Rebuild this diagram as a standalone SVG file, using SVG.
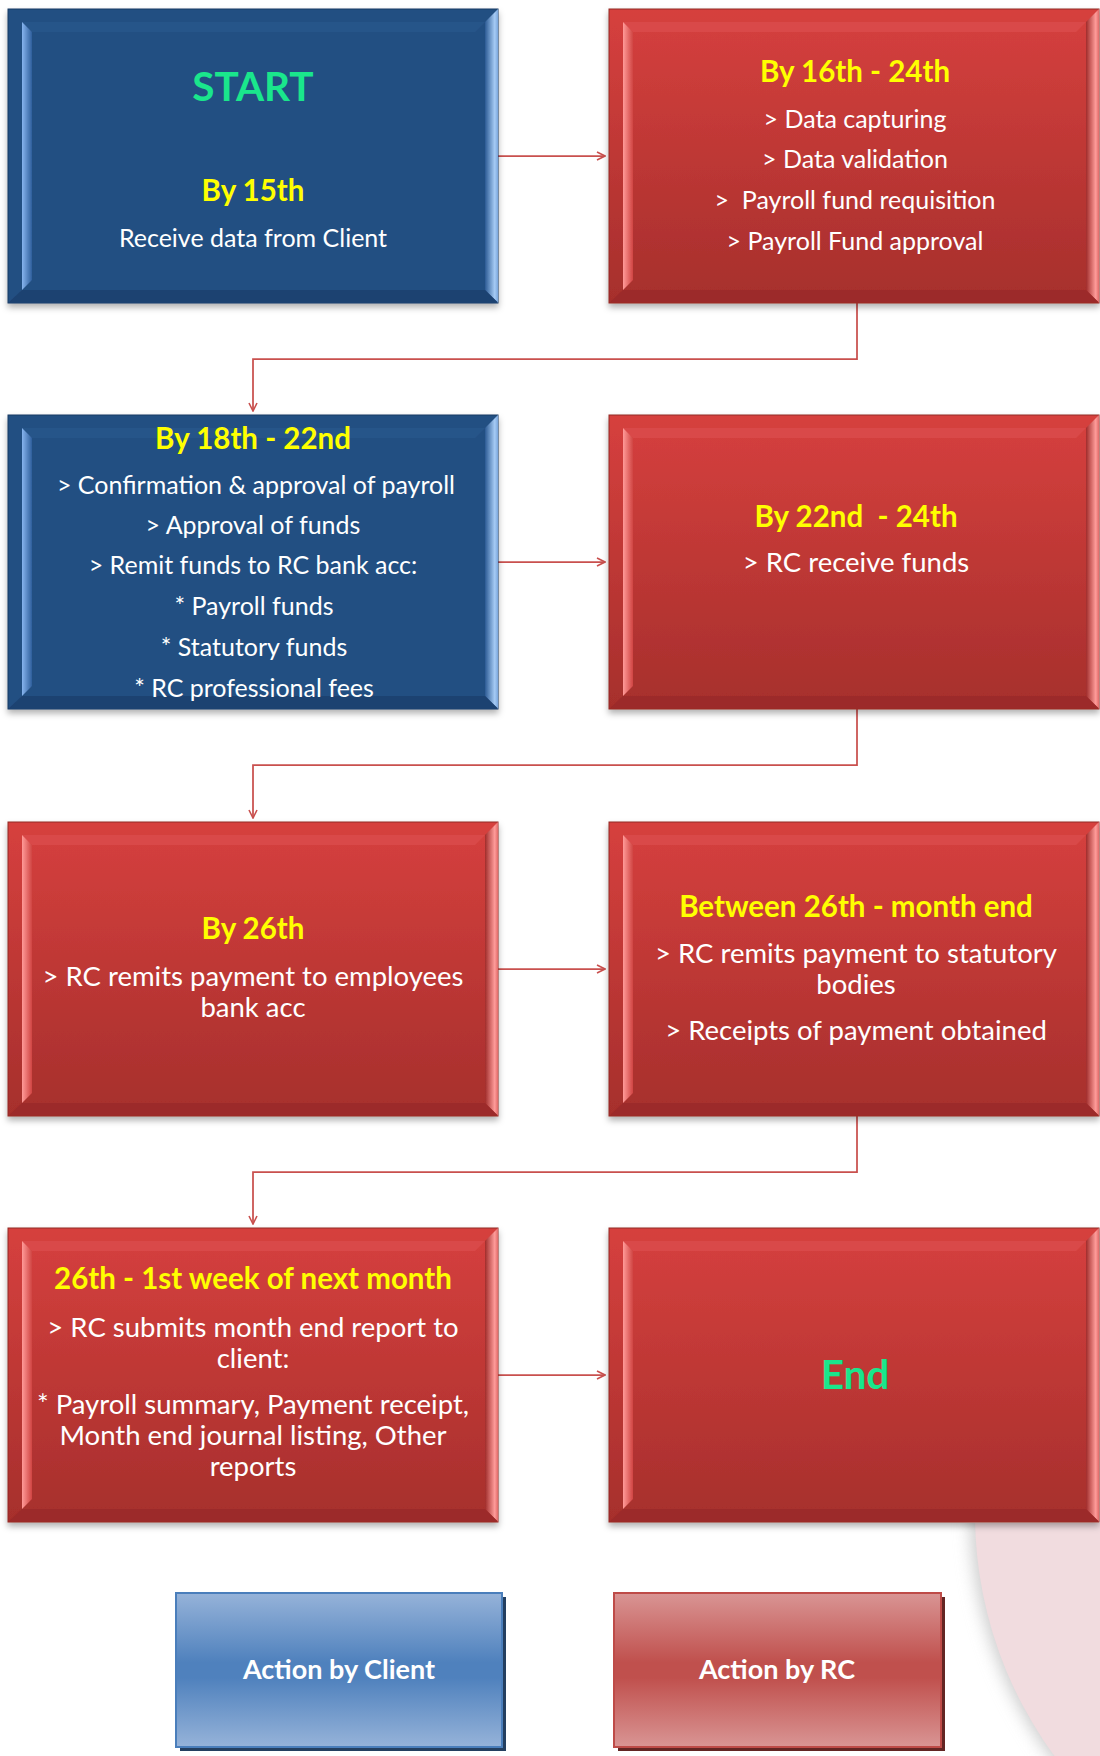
<svg xmlns="http://www.w3.org/2000/svg" xmlns:xlink="http://www.w3.org/1999/xlink" width="1100" height="1756" viewBox="0 0 1100 1756">
<style>
  text { font-family: "Lato", "Liberation Sans", sans-serif; text-anchor: middle; }
  .title { font-weight: bold; font-size: 29.5px; fill: #ffff00; }
  .big { font-weight: bold; font-size: 40.5px; fill: #1ae68c; }
  .body { font-size: 25px; fill: #ffffff; }
  .body2 { font-size: 27.5px; fill: #ffffff; }
  .legend { font-weight: bold; font-size: 27px; fill: #ffffff; }
  .conn { fill: none; stroke: #c9504e; stroke-width: 1.75; marker-end: url(#arrow); }
</style>
<defs>
  <marker id="arrow" viewBox="0 0 10 10" refX="9" refY="5" markerWidth="10" markerHeight="10" markerUnits="userSpaceOnUse" orient="auto">
    <path d="M1,1 L9,5 L1,9" fill="none" stroke="#c9504e" stroke-width="1.6"/>
  </marker>
  <filter id="shadow" x="-5%" y="-5%" width="110%" height="115%">
    <feDropShadow dx="0" dy="4" stdDeviation="3" flood-color="#000" flood-opacity="0.3"/>
  </filter>
  <filter id="blur" x="-20%" y="-20%" width="140%" height="140%">
    <feGaussianBlur stdDeviation="8"/>
  </filter>
  <clipPath id="bottomClip">
    <rect x="0" y="1523" width="1100" height="233"/>
  </clipPath>
  <linearGradient id="redBody" x1="0" y1="0" x2="0" y2="1">
    <stop offset="0" stop-color="#d6403e"/>
    <stop offset="1" stop-color="#a62f2c"/>
  </linearGradient>
  <linearGradient id="redLeft" x1="0" y1="0" x2="1" y2="0">
    <stop offset="0" stop-color="#ff9a98"/>
    <stop offset="1" stop-color="#d04442"/>
  </linearGradient>
  <linearGradient id="redRight" x1="0" y1="0" x2="1" y2="0">
    <stop offset="0" stop-color="#a02d2a"/>
    <stop offset="0.75" stop-color="#ff9c9a"/>
    <stop offset="1" stop-color="#e06a68"/>
  </linearGradient>
  <linearGradient id="blueLeft" x1="0" y1="0" x2="1" y2="0">
    <stop offset="0" stop-color="#86b4ee"/>
    <stop offset="1" stop-color="#2f5f9c"/>
  </linearGradient>
  <linearGradient id="blueRight" x1="0" y1="0" x2="1" y2="0">
    <stop offset="0" stop-color="#2c5b94"/>
    <stop offset="0.75" stop-color="#a6cbf5"/>
    <stop offset="1" stop-color="#7aa6dc"/>
  </linearGradient>
  <linearGradient id="legBlue" x1="0" y1="0" x2="0" y2="1">
    <stop offset="0" stop-color="#96b3d9"/>
    <stop offset="0.45" stop-color="#4f81bd"/>
    <stop offset="0.55" stop-color="#4f81bd"/>
    <stop offset="1" stop-color="#96b3d9"/>
  </linearGradient>
  <linearGradient id="legRed" x1="0" y1="0" x2="0" y2="1">
    <stop offset="0" stop-color="#d99594"/>
    <stop offset="0.45" stop-color="#c0504d"/>
    <stop offset="0.55" stop-color="#c0504d"/>
    <stop offset="1" stop-color="#d99594"/>
  </linearGradient>
  <g id="redShape">
    <rect x="0" y="0" width="490" height="294" fill="url(#redBody)" stroke="#922826" stroke-width="1"/>
    <polygon points="14,13 477,13 467,23 24,23" fill="#d94a48"/>
    <polygon points="14,13 24,23 24,271 14,281" fill="url(#redLeft)"/>
    <polygon points="490,0 490,294 477,281 477,13" fill="url(#redRight)"/>
    <polygon points="0.5,293.5 14,281 477,281 490,293.5" fill="#9c2b29"/>
  </g>
  <g id="blueShape">
    <rect x="0" y="0" width="490" height="294" fill="#244f82" stroke="#1b3b62" stroke-width="1"/>
    <polygon points="14,13 477,13 467,23 24,23" fill="#285589"/>
    <polygon points="14,13 24,23 24,271 14,281" fill="url(#blueLeft)"/>
    <polygon points="490,0 490,294 477,281 477,13" fill="url(#blueRight)"/>
    <polygon points="0.5,293.5 14,281 477,281 490,293.5" fill="#1e4271"/>
  </g>
</defs>

<rect width="1100" height="1756" fill="#ffffff"/>

<!-- background decoration -->
<g clip-path="url(#bottomClip)">
  <circle cx="1378" cy="1514" r="408" fill="#cfcfcf" filter="url(#blur)"/>
  <circle cx="1383" cy="1514" r="408" fill="#f1dcdf"/>
</g>

<g id="connectors">
  <path class="conn" d="M498,156 H605"/>
  <path class="conn" d="M857,303 V359 H253 V411"/>
  <path class="conn" d="M498,562 H605"/>
  <path class="conn" d="M857,709 V765 H253 V818"/>
  <path class="conn" d="M498,969 H605"/>
  <path class="conn" d="M857,1116 V1172 H253 V1224"/>
  <path class="conn" d="M498,1375 H605"/>
</g>

<g id="node-start">
  <use xlink:href="#blueShape" x="8" y="9" filter="url(#shadow)"/>
  <text class="big" x="253" y="101">START</text>
  <text class="title" x="253" y="201">By 15th</text>
  <text class="body" x="253" y="247">Receive data from Client</text>
</g>

<g id="node-16-24">
  <use xlink:href="#redShape" x="609" y="9" filter="url(#shadow)"/>
  <text class="title" x="855" y="82">By 16th - 24th</text>
  <text class="body" x="855" y="128">&gt; Data capturing</text>
  <text class="body" x="855" y="168">&gt; Data validation</text>
  <text class="body" x="855" y="209" xml:space="preserve">&gt;  Payroll fund requisition</text>
  <text class="body" x="855" y="250">&gt; Payroll Fund approval</text>
</g>

<g id="node-18-22">
  <use xlink:href="#blueShape" x="8" y="415" filter="url(#shadow)"/>
  <text class="title" x="253" y="449">By 18th - 22nd</text>
  <text class="body" x="256" y="494">&gt; Confirmation &amp; approval of payroll</text>
  <text class="body" x="253" y="534">&gt; Approval of funds</text>
  <text class="body" x="253" y="574">&gt; Remit funds to RC bank acc:</text>
  <text class="body" x="254" y="615">* Payroll funds</text>
  <text class="body" x="254" y="656">* Statutory funds</text>
  <text class="body" x="254" y="697">* RC professional fees</text>
</g>

<g id="node-22-24">
  <use xlink:href="#redShape" x="609" y="415" filter="url(#shadow)"/>
  <text class="title" x="856" y="527" xml:space="preserve">By 22nd  - 24th</text>
  <text class="body2" x="856" y="572">&gt; RC receive funds</text>
</g>

<g id="node-26">
  <use xlink:href="#redShape" x="8" y="822" filter="url(#shadow)"/>
  <text class="title" x="253" y="939">By 26th</text>
  <text class="body2" x="253" y="986">&gt; RC remits payment to employees</text>
  <text class="body2" x="253" y="1017">bank acc</text>
</g>

<g id="node-26-monthend">
  <use xlink:href="#redShape" x="609" y="822" filter="url(#shadow)"/>
  <text class="title" x="856" y="917">Between 26th - month end</text>
  <text class="body2" x="856" y="963">&gt; RC remits payment to statutory</text>
  <text class="body2" x="856" y="994">bodies</text>
  <text class="body2" x="856" y="1040">&gt; Receipts of payment obtained</text>
</g>

<g id="node-26-nextmonth">
  <use xlink:href="#redShape" x="8" y="1228" filter="url(#shadow)"/>
  <text class="title" x="253" y="1289">26th - 1st week of next month</text>
  <text class="body2" x="253" y="1337">&gt; RC submits month end report to</text>
  <text class="body2" x="253" y="1368">client:</text>
  <text class="body2" x="253" y="1414">* Payroll summary, Payment receipt,</text>
  <text class="body2" x="253" y="1445">Month end journal listing, Other</text>
  <text class="body2" x="253" y="1476">reports</text>
</g>

<g id="node-end">
  <use xlink:href="#redShape" x="609" y="1228" filter="url(#shadow)"/>
  <text class="big" x="855" y="1389">End</text>
</g>

<g id="legend-client">
  <rect x="180" y="1597" width="326" height="154" fill="#243f60"/>
  <rect x="176" y="1593" width="326" height="154" fill="url(#legBlue)" stroke="#4a7ebb" stroke-width="2"/>
  <text class="legend" x="339" y="1679">Action by Client</text>
</g>

<g id="legend-rc">
  <rect x="618" y="1597" width="327" height="154" fill="#632523"/>
  <rect x="614" y="1593" width="327" height="154" fill="url(#legRed)" stroke="#be4b48" stroke-width="2"/>
  <text class="legend" x="777" y="1679">Action by RC</text>
</g>
</svg>
